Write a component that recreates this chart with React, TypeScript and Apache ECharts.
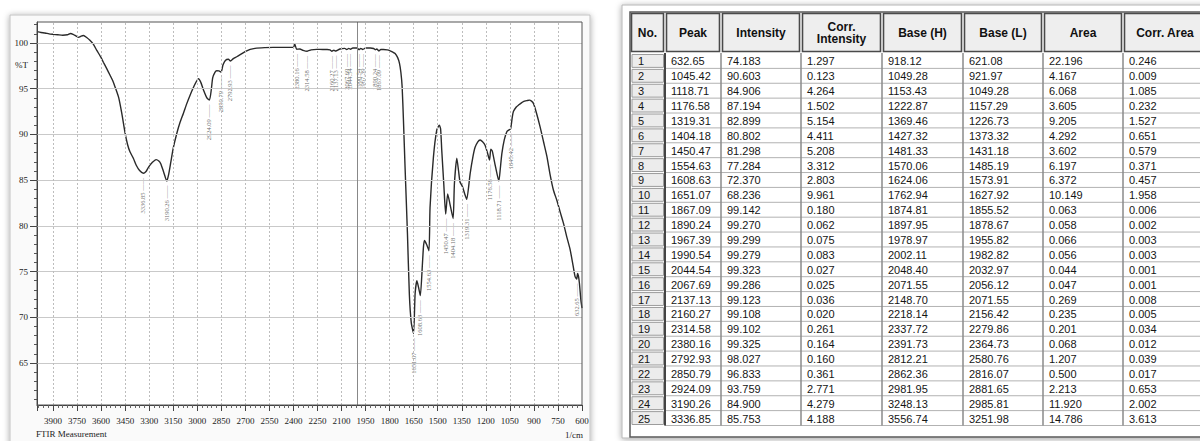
import React, { useEffect, useRef } from 'react';
import * as echarts from 'echarts';

// ---------------- Spectrum (wavenumber in 1/cm, transmittance in %T) ----------------
const spectrumWavenumber = [4000,3975,3950,3925,3900,3870,3840,3810,3790,3775,3755,3740,3725,3710,3690,3670,3650,3627,3600,3586,3565,3545,3528,3513,3490,3471,3451,3435,3420,3399,3380,3360,3336.85,3320,3305,3280,3257,3240,3228,3210,3190.26,3178,3165,3150,3128,3108,3087,3065,3045,3020,2993,2978,2962,2940,2924.09,2912,2904,2890,2879,2865,2850.79,2840,2825,2806,2792.93,2775,2754,2730,2702,2670,2640,2580,2525,2450,2400,2392,2380.16,2360,2340,2314.58,2290,2255,2218,2190,2172,2160.27,2148,2137.13,2110,2080,2067.69,2055,2044.54,2030,2005,1990.54,1980,1967.39,1950,1920,1900,1890.24,1880,1867.09,1855,1839,1815,1797,1780,1766,1750,1739,1730,1722,1714,1704,1689,1677,1665,1651.07,1641,1630,1620,1608.63,1595,1589,1583,1570,1554.63,1548,1527,1506,1490,1482,1475,1462,1450.47,1438,1425,1404.18,1396,1381,1370,1361,1346,1330,1319.31,1298,1280,1267,1250,1236,1220,1204,1190,1176.58,1169,1160,1140,1118.71,1110,1100,1085,1069,1055,1045.42,1035,1028,1010,997,966,940,928,915,903,885,861,840,819,800,778,757,736,716,695,674,655,643,632.65,628,622,616,607,600];
const spectrumTransmittance = [101.25,101.15,101.1,101.0,100.95,100.9,100.85,100.9,101.05,100.95,100.75,100.62,100.75,100.82,100.6,100.3,99.9,99.2,98.4,97.9,97.2,96.5,95.9,95.2,94.0,92.3,90.2,88.9,88.1,87.4,86.6,86.05,85.753,85.95,86.4,86.95,87.25,87.1,86.8,85.9,84.9,85.7,87.0,88.5,90.1,91.3,92.3,93.4,94.3,95.3,96.1,95.7,94.9,94.0,93.759,95.0,96.2,96.8,96.97,96.95,96.833,97.6,98.1,98.22,98.027,98.3,98.5,98.75,99.05,99.3,99.42,99.5,99.53,99.53,99.53,99.9,99.325,99.35,99.2,99.102,99.25,99.31,99.3,99.3,99.25,99.108,99.22,99.123,99.35,99.42,99.286,99.42,99.323,99.45,99.45,99.279,99.42,99.299,99.45,99.45,99.4,99.27,99.35,99.142,99.3,99.3,99.25,99.15,99.0,98.85,98.4,97.8,96.8,95.2,91.6,86.5,79.2,72.5,69.4,68.236,72.6,74.0,73.3,72.37,76.0,77.7,78.4,78.0,77.284,82.0,87.5,90.5,91.0,90.6,88.3,84.5,81.298,83.5,82.5,80.802,84.6,87.4,86.0,84.8,84.3,83.4,82.899,85.7,87.6,88.6,89.2,89.4,89.2,88.8,88.0,87.194,88.4,88.2,86.5,84.906,86.2,87.9,89.4,90.3,90.5,90.603,91.9,92.5,93.0,93.2,93.6,93.72,93.76,93.65,93.4,92.4,90.8,89.2,87.6,85.7,83.9,82.8,81.5,80.3,78.8,77.4,75.6,74.45,74.183,74.8,74.5,73.7,71.9,71.0];

// ---------------- Peak table ----------------
const headerLabels = ['No.', 'Peak', 'Intensity', 'Corr.\nIntensity', 'Base (H)', 'Base (L)', 'Area', 'Corr. Area'];
const peakNo = [1,2,3,4,5,6,7,8,9,10,11,12,13,14,15,16,17,18,19,20,21,22,23,24,25];
const peakWavenumber = [632.65,1045.42,1118.71,1176.58,1319.31,1404.18,1450.47,1554.63,1608.63,1651.07,1867.09,1890.24,1967.39,1990.54,2044.54,2067.69,2137.13,2160.27,2314.58,2380.16,2792.93,2850.79,2924.09,3190.26,3336.85];
const peakIntensity = [74.183,90.603,84.906,87.194,82.899,80.802,81.298,77.284,72.370,68.236,99.142,99.270,99.299,99.279,99.323,99.286,99.123,99.108,99.102,99.325,98.027,96.833,93.759,84.900,85.753];
const corrIntensity = [1.297,0.123,4.264,1.502,5.154,4.411,5.208,3.312,2.803,9.961,0.180,0.062,0.075,0.083,0.027,0.025,0.036,0.020,0.261,0.164,0.160,0.361,2.771,4.279,4.188];
const baseHigh = [918.12,1049.28,1153.43,1222.87,1369.46,1427.32,1481.33,1570.06,1624.06,1762.94,1874.81,1897.95,1978.97,2002.11,2048.40,2071.55,2148.70,2218.14,2337.72,2391.73,2812.21,2862.36,2981.95,3248.13,3556.74];
const baseLow = [621.08,921.97,1049.28,1157.29,1226.73,1373.32,1431.18,1485.19,1573.91,1627.92,1855.52,1878.67,1955.82,1982.82,2032.97,2056.12,2071.55,2156.42,2279.86,2364.73,2580.76,2816.07,2881.65,2985.81,3251.98];
const peakArea = [22.196,4.167,6.068,3.605,9.205,4.292,3.602,6.197,6.372,10.149,0.063,0.058,0.066,0.056,0.044,0.047,0.269,0.235,0.201,0.068,1.207,0.500,2.213,11.920,14.786];
const corrArea = [0.246,0.009,1.085,0.232,1.527,0.651,0.579,0.371,0.457,1.958,0.006,0.002,0.003,0.003,0.001,0.001,0.008,0.005,0.034,0.012,0.039,0.017,0.653,2.002,3.613];
const columnDecimals = [0, 2, 3, 3, 2, 2, 3, 3];

// ---------------- Axis ticks ----------------
const yMajorTicks = [65, 70, 75, 80, 85, 90, 95, 100];
const yMinorTicks = [61,62,63,64,66,67,68,69,71,72,73,74,76,77,78,79,81,82,83,84,86,87,88,89,91,92,93,94,96,97,98,99,101,102];
const xGridValues = [750,900,1050,1200,1350,1500,1650,1800,1950,2100,2250,2400,2550,2700,2850,3000,3150,3300,3450,3600,3750,3900];
const cursorWavenumber = 2000;

const SERIF = '"Liberation Serif", "Times New Roman", serif';
const SANS = '"Liberation Sans", Arial, sans-serif';

function buildTableGraphics() {
  const els: any[] = [];
  const colX = [630, 665, 721, 801, 882, 963, 1043, 1123, 1207];
  const headTop = 12;
  const headBottom = 53;
  const rowTop = 53.5;
  const rowH = 14.88;
  const nRows = peakNo.length;
  const tableBottom = rowTop + nRows * rowH;

  els.push({ type: 'rect', z: -30, silent: true, shape: { x: 622, y: 5, width: 600, height: 433 },
    style: { fill: '#ffffff', stroke: '#b5b5b5', lineWidth: 1, shadowBlur: 6, shadowColor: 'rgba(0,0,0,0.35)', shadowOffsetX: 0, shadowOffsetY: 1 } });
  els.push({ type: 'rect', z: -29, silent: true, shape: { x: 630, y: 12, width: 590, height: 425 },
    style: { fill: '#ffffff', stroke: '#5a5a5a', lineWidth: 1.5 } });

  for (let c = 0; c < 8; c++) {
    const x0 = colX[c], x1 = colX[c + 1];
    els.push({ type: 'rect', z: -20, silent: true, shape: { x: x0 + 1.5, y: headTop + 1.5, width: x1 - x0 - 3, height: headBottom - headTop - 3 },
      style: { fill: '#eeeeee', stroke: '#4a4a4a', lineWidth: 1.6 } });
    els.push({ type: 'text', z: -10, silent: true, x: (x0 + x1) / 2, y: (headTop + headBottom) / 2 + 0.5,
      style: { text: headerLabels[c], font: 'bold 12px ' + SANS, fill: '#111', align: 'center', verticalAlign: 'middle', lineHeight: 12 } });
  }

  const columns = [peakNo, peakWavenumber, peakIntensity, corrIntensity, baseHigh, baseLow, peakArea, corrArea];
  for (let r = 0; r < nRows; r++) {
    const y0 = rowTop + r * rowH;
    els.push({ type: 'rect', z: -20, silent: true, shape: { x: 632, y: y0 + 1, width: 31.5, height: rowH - 2 },
      style: { fill: '#ececec', stroke: '#9c9c9c', lineWidth: 1 } });
    els.push({ type: 'line', z: -19, silent: true, shape: { x1: 665, y1: y0 + rowH, x2: colX[8], y2: y0 + rowH },
      style: { stroke: '#b2b2b2', lineWidth: 1 } });
    for (let c = 0; c < 8; c++) {
      const v = columns[c][r];
      els.push({ type: 'text', z: -10, silent: true, x: colX[c] + (c === 0 ? 8 : 6), y: y0 + rowH / 2 + 0.5,
        style: { text: v.toFixed(columnDecimals[c]), font: '11px ' + SANS, fill: '#151515', align: 'left', verticalAlign: 'middle' } });
    }
  }
  for (let c = 1; c < 8; c++) {
    els.push({ type: 'line', z: -18, silent: true, shape: { x1: colX[c], y1: headBottom, x2: colX[c], y2: tableBottom },
      style: { stroke: c === 1 ? '#444' : '#8a8a8a', lineWidth: c === 1 ? 2 : 1.5 } });
  }
  return els;
}

function buildChartGraphics() {
  const els: any[] = [];
  els.push({ type: 'rect', z: -30, silent: true, shape: { x: 10, y: 15, width: 580, height: 440 },
    style: { fill: '#fafafa', stroke: '#c2c2c2', lineWidth: 1, shadowBlur: 6, shadowColor: 'rgba(0,0,0,0.35)', shadowOffsetX: 0, shadowOffsetY: 1 } });
  els.push({ type: 'rect', z: -29, silent: true, shape: { x: 37, y: 22, width: 545, height: 383 },
    style: { fill: '#ffffff' } });
  els.push({ type: 'rect', z: 20, silent: true, shape: { x: 37, y: 22, width: 545, height: 383 },
    style: { fill: 'none', stroke: '#555', lineWidth: 1 } });
  els.push({ type: 'text', z: 20, silent: true, x: 15, y: 65,
    style: { text: '%T', font: '9px ' + SERIF, fill: '#222', align: 'left', verticalAlign: 'middle' } });
  els.push({ type: 'text', z: 20, silent: true, x: 36, y: 434,
    style: { text: 'FTIR Measurement', font: '9px ' + SERIF, fill: '#222', align: 'left', verticalAlign: 'middle' } });
  els.push({ type: 'text', z: 20, silent: true, x: 583, y: 435,
    style: { text: '1/cm', font: '9px ' + SERIF, fill: '#222', align: 'right', verticalAlign: 'middle' } });
  return els;
}

export default function App() {
  const ref = useRef<HTMLDivElement>(null);
  useEffect(() => {
    document.body.style.margin = '0';
    const chart = echarts.init(ref.current!, null, { renderer: 'svg' });

    const gridLines: any[] = [];
    yMajorTicks.forEach((v) => gridLines.push({ yAxis: v, lineStyle: { color: '#c9c9c9', type: 'solid', width: 1 } }));
    xGridValues.forEach((v) => gridLines.push({ xAxis: v, lineStyle: { color: '#bdbdbd', type: [2, 2], width: 1 } }));
    gridLines.push({ xAxis: cursorWavenumber, lineStyle: { color: '#888', type: 'solid', width: 1 } });

    const option: any = {
      animation: false,
      backgroundColor: '#ffffff',
      grid: { left: 37, top: 22, width: 545, height: 383, show: false },
      xAxis: [{
        type: 'value', inverse: true, min: 600, max: 4000, interval: 150, position: 'bottom',
        axisLine: { show: true, onZero: false, lineStyle: { color: '#333', width: 1 } },
        axisTick: { show: true, length: 6, lineStyle: { color: '#444' } },
        minorTick: { show: true, splitNumber: 5, length: 3, lineStyle: { color: '#666' } },
        axisLabel: { show: true, showMaxLabel: false, margin: 11, fontFamily: SERIF, fontSize: 9, color: '#222', formatter: (v: number) => String(v) },
        splitLine: { show: false }, minorSplitLine: { show: false },
      }],
      yAxis: [{
        type: 'value', min: 60.41, max: 102.3, position: 'left',
        axisLine: { show: true, onZero: false, lineStyle: { color: '#333', width: 1 } },
        axisTick: { show: true, length: 7, customValues: yMajorTicks, lineStyle: { color: '#444' } },
        axisLabel: { show: true, customValues: yMajorTicks, margin: 9, fontFamily: SERIF, fontSize: 9, color: '#222', formatter: (v: number) => String(v) },
        splitLine: { show: false },
      }, {
        type: 'value', min: 60.41, max: 102.3, position: 'left',
        axisLine: { show: false },
        axisTick: { show: true, length: 3, customValues: yMinorTicks, lineStyle: { color: '#555' } },
        axisLabel: { show: false },
        splitLine: { show: false },
      }],
      series: [
        {
          type: 'line', data: [], z: 1, silent: true, symbol: 'none',
          markLine: { silent: true, symbol: ['none', 'none'], label: { show: false }, animation: false, data: gridLines },
        },
        {
          type: 'line', z: 3, silent: true, symbol: 'none', showSymbol: false, smooth: 0.2,
          lineStyle: { color: '#2a2a2a', width: 1.4 },
          data: spectrumWavenumber.map((w, i) => [w, spectrumTransmittance[i]]),
        },
        {
          type: 'scatter', z: 2, silent: true, symbolSize: 1,
          itemStyle: { color: 'rgba(0,0,0,0)' },
          data: peakWavenumber.map((w, i) => [w, peakIntensity[i]]),
          label: {
            show: true, position: [0, 5], rotate: 90, align: 'right', verticalAlign: 'middle',
            fontFamily: SERIF, fontSize: 6.5, color: '#444',
            formatter: (p: any) => p.value[0].toFixed(2) + ' \u2014\u2014',
          },
        },
      ],
      graphic: { elements: [...buildChartGraphics(), ...buildTableGraphics()] },
    };
    chart.setOption(option);
    return () => chart.dispose();
  }, []);
  return <div ref={ref} style={{ width: 1200, height: 441 }} />;
}
